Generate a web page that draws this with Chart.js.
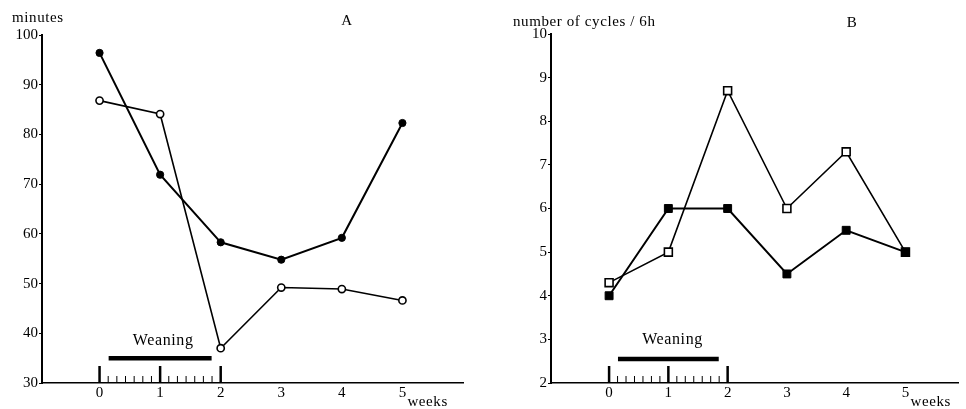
<!DOCTYPE html>
<html>
<head>
<meta charset="utf-8">
<script src="https://cdn.jsdelivr.net/npm/chart.js@4.4.0/dist/chart.umd.min.js"></script>
<style>
  body { margin: 0; background: #fff; }
  #wrap { position: relative; width: 966px; height: 409px; }
  canvas { position: absolute; top: 0; }
</style>
</head>
<body>
<div id="wrap">
  <canvas id="chart-a" width="483" height="409" style="left:0"></canvas>
  <canvas id="chart-b" width="483" height="409" style="left:483px"></canvas>
</div>
<script>
// two panels, week 0..5, weaning between week 0 and 2

const weeks = [0, 1, 2, 3, 4, 5];

// panel A: minutes
const minutesFilled = [96.4, 71.9, 58.3, 54.8, 59.2, 82.3];
const minutesOpen = [86.8, 84.1, 37.0, 49.2, 48.9, 46.6];
const minutesTicks = [30, 40, 50, 60, 70, 80, 90, 100];

// panel B: number of cycles / 6h
const cyclesFilled = [4.0, 6.0, 6.0, 4.5, 5.5, 5.0];
const cyclesOpen = [4.3, 5.0, 8.7, 6.0, 7.3, 5.0];
const cyclesTicks = [2, 3, 4, 5, 6, 7, 8, 9, 10];

// weaning bar (in weeks) and the day marks under it
const weaningSpan = [0.15, 1.85];
const weaningDays = [0, 1, 2, 3, 4, 5, 6, 7, 8, 9, 10, 11, 12, 13, 14];

const SERIF = "'Liberation Serif', 'DejaVu Serif', serif";
Chart.defaults.font.family = SERIF;
Chart.defaults.font.size = 15;
Chart.defaults.color = "#000";

const pts = ys => weeks.map((w, i) => ({ x: w, y: ys[i] }));

// text, "Weaning" and the day ticks on the x axis
const figText = {
  id: "figText",
  afterDatasetsDraw(chart, args, o) {
    const { ctx, chartArea } = chart;
    const xs = chart.scales.x, ys = chart.scales.y;
    ctx.save();
    ctx.fillStyle = "#000";
    ctx.strokeStyle = "#000";
    ctx.letterSpacing = "0.6px";
    ctx.font = "15px " + SERIF;
    ctx.textAlign = "left";
    ctx.fillText(o.yTitle, o.yTitlePos[0], o.yTitlePos[1]);
    ctx.textAlign = "center";
    ctx.fillText(o.panel, o.panelPos[0], o.panelPos[1]);
    ctx.font = "16px " + SERIF;
    ctx.fillText("Weaning", xs.getPixelForValue(o.weanText[0]), ys.getPixelForValue(o.weanText[1]));
    ctx.textAlign = "left";
    ctx.font = "15px " + SERIF;
    ctx.fillText("weeks", xs.getPixelForValue(weeks[weeks.length - 1]) + 5, 406);

    const base = chartArea.bottom;
    for (const d of weaningDays) {
      const px = xs.getPixelForValue(d / 7);
      const major = d % 7 === 0;
      ctx.lineWidth = major ? 2.5 : 1;
      ctx.beginPath();
      ctx.moveTo(px, base);
      ctx.lineTo(px, base - (major ? 17 : 7));
      ctx.stroke();
    }
    ctx.restore();
  }
};

function makeChart(id, cfg) {
  const lineBase = { borderColor: "#000", tension: 0, showLine: true };
  return new Chart(document.getElementById(id), {
    type: "scatter",
    data: {
      datasets: [
        {
          ...lineBase,
          borderWidth: 2,
          data: pts(cfg.filled),
          pointStyle: cfg.marker,
          pointRadius: cfg.radius,
          pointBackgroundColor: "#000",
          pointBorderColor: "#000",
          pointBorderWidth: 1
        },
        {
          ...lineBase,
          borderWidth: 1.6,
          data: pts(cfg.open),
          pointStyle: cfg.marker,
          pointRadius: cfg.radius,
          pointBackgroundColor: "#fff",
          pointBorderColor: "#000",
          pointBorderWidth: 1.6
        },
        {
          data: weaningSpan.map(x => ({ x, y: cfg.weanY })),
          showLine: true,
          borderColor: "#000",
          borderWidth: 4.5,
          borderCapStyle: "butt",
          pointRadius: 0
        }
      ]
    },
    options: {
      responsive: false,
      animation: false,
      events: [],
      layout: { padding: { top: cfg.top, right: cfg.right, left: 0, bottom: 0 } },
      plugins: {
        legend: { display: false },
        tooltip: { enabled: false },
        figText: cfg.text
      },
      scales: {
        x: {
          type: "linear",
          min: cfg.xMin,
          max: cfg.xMax,
          afterBuildTicks: s => { s.ticks = weeks.map(v => ({ value: v })); },
          afterFit: s => { s.height = 26; s.paddingLeft = 0; s.paddingRight = 0; },
          grid: { display: false, drawTicks: false },
          border: { display: true, color: "#000", width: 1.5 },
          ticks: { padding: 1 }
        },
        y: {
          min: cfg.ticks[0],
          max: cfg.ticks[cfg.ticks.length - 1],
          afterBuildTicks: s => { s.ticks = cfg.ticks.map(v => ({ value: v })); },
          afterFit: s => { s.width = cfg.yWidth; },
          grid: { display: true, drawOnChartArea: false, drawTicks: true, tickLength: 3, color: "#000", lineWidth: 1 },
          border: { display: true, color: "#000", width: 2 },
          ticks: { padding: 1 }
        }
      }
    },
    plugins: [figText]
  });
}

makeChart("chart-a", {
  filled: minutesFilled, open: minutesOpen, ticks: minutesTicks,
  marker: "circle", radius: 3.6, weanY: 35,
  xMin: -0.95, xMax: 6.0, top: 35, right: 20, yWidth: 42,
  text: { yTitle: "minutes", yTitlePos: [12, 22], panel: "A", panelPos: [347, 25], weanText: [1.05, 37.7] }
});

makeChart("chart-b", {
  filled: cyclesFilled, open: cyclesOpen, ticks: cyclesTicks,
  marker: "rect", radius: 5.6, weanY: 2.55,
  xMin: -0.98, xMax: 5.9, top: 34, right: 0, yWidth: 68,
  text: { yTitle: "number of cycles / 6h", yTitlePos: [30, 26], panel: "B", panelPos: [369, 27], weanText: [1.07, 2.89] }
});
</script>
</body>
</html>
